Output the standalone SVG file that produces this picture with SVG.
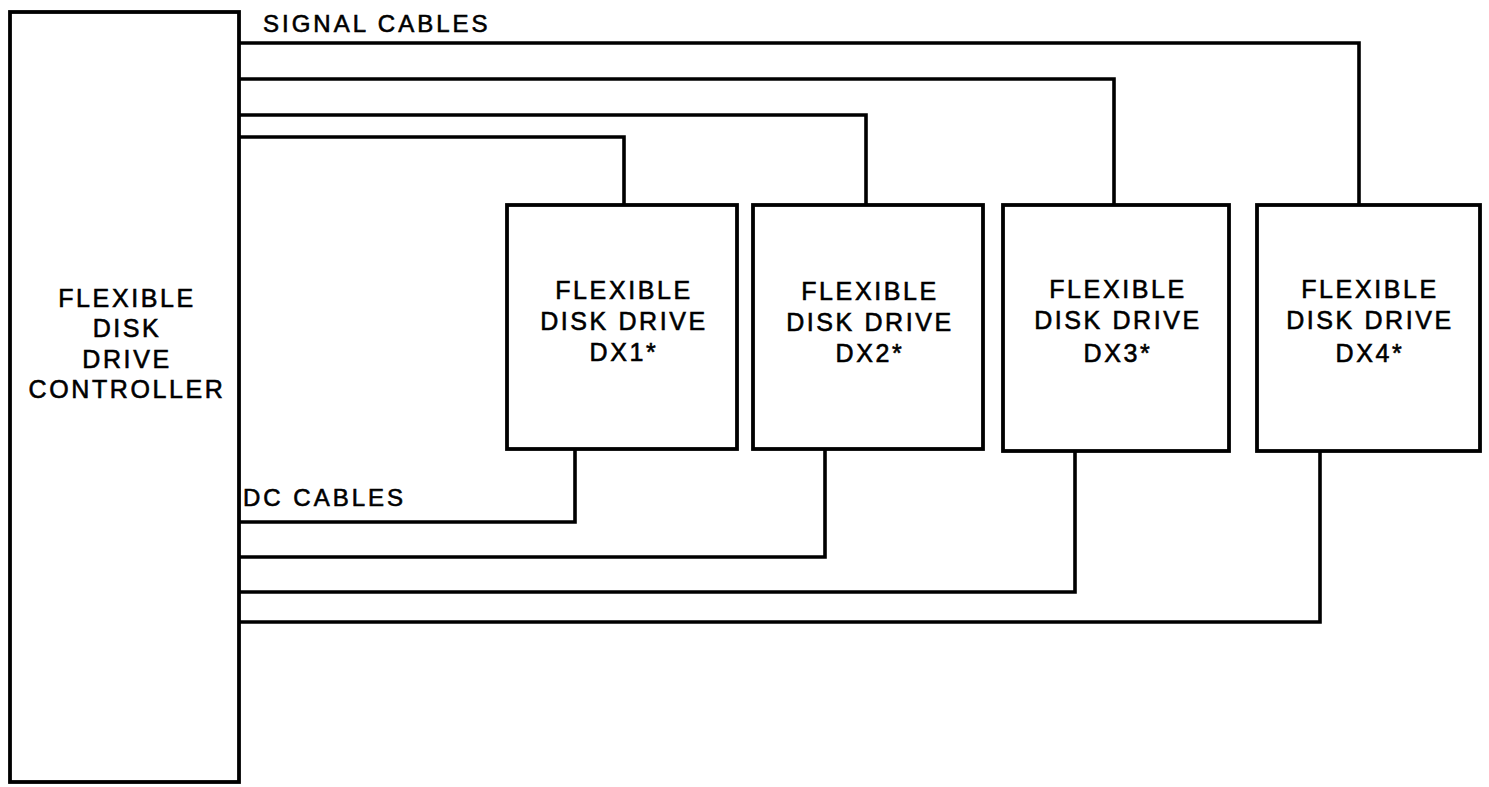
<svg xmlns="http://www.w3.org/2000/svg" width="1489" height="787" viewBox="0 0 1489 787">
<style>
.box{fill:#fff;stroke:#000;stroke-width:3.8}
.wire{fill:none;stroke:#000;stroke-width:3.6;stroke-linejoin:miter}
.t{font-family:"Liberation Sans",Arial,sans-serif;font-size:25px;fill:#000;stroke:#000;stroke-width:0.6;letter-spacing:2.6px}
.s{font-size:24px;letter-spacing:3px}
.c{text-anchor:middle}
</style>
<rect width="1489" height="787" fill="#fff"/>
<g id="connectors">
<polyline class="wire" points="240,43 1359,43 1359,205"/>
<polyline class="wire" points="240,79 1114,79 1114,205"/>
<polyline class="wire" points="240,115 866,115 866,205"/>
<polyline class="wire" points="240,137 624,137 624,205"/>
<polyline class="wire" points="240,522 575,522 575,450"/>
<polyline class="wire" points="240,557 825,557 825,450"/>
<polyline class="wire" points="240,592 1075,592 1075,451"/>
<polyline class="wire" points="240,622 1320,622 1320,451"/>
</g>
<g id="controller">
<rect class="box" x="10" y="12" width="229" height="770"/>
<text class="t c" x="127" y="307">FLEXIBLE</text>
<text class="t c" x="127" y="337">DISK</text>
<text class="t c" x="127" y="368">DRIVE</text>
<text class="t c" x="127" y="398">CONTROLLER</text>
</g>
<g id="dx1">
<rect class="box" x="507" y="205" width="230" height="244"/>
<text class="t c" x="624" y="299">FLEXIBLE</text>
<text class="t c" x="624" y="330">DISK DRIVE</text>
<text class="t c" x="624" y="361">DX1*</text>
</g>
<g id="dx2">
<rect class="box" x="753" y="205" width="230" height="244"/>
<text class="t c" x="870" y="300">FLEXIBLE</text>
<text class="t c" x="870" y="331">DISK DRIVE</text>
<text class="t c" x="870" y="362">DX2*</text>
</g>
<g id="dx3">
<rect class="box" x="1003" y="205" width="226" height="246"/>
<text class="t c" x="1118" y="298">FLEXIBLE</text>
<text class="t c" x="1118" y="329">DISK DRIVE</text>
<text class="t c" x="1118" y="362">DX3*</text>
</g>
<g id="dx4">
<rect class="box" x="1257" y="205" width="223" height="246"/>
<text class="t c" x="1370" y="298">FLEXIBLE</text>
<text class="t c" x="1370" y="329">DISK DRIVE</text>
<text class="t c" x="1370" y="362">DX4*</text>
</g>
<g id="labels">
<text class="t s" x="263" y="32">SIGNAL CABLES</text>
<text class="t s" x="243" y="506">DC CABLES</text>
</g>
</svg>
